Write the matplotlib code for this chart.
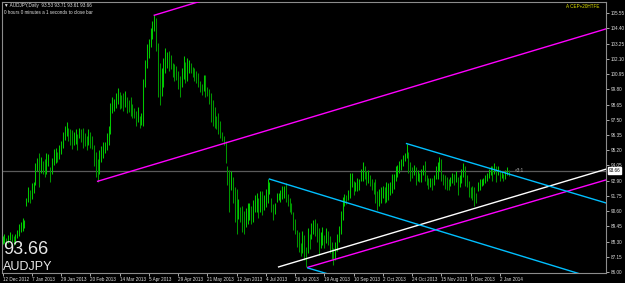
import numpy as np
import matplotlib
matplotlib.use("Agg")
import matplotlib.pyplot as plt

# daily AUDJPY bars (high / low)
highs = [88.7, 88.9, 88.6, 88.8, 89.0, 88.9, 88.7, 88.9, 89.2, 89.6,
         89.8, 90.1, 89.9, 91.6, 92.4, 92.2, 92.7, 92.8, 94.2, 94.6,
         95.0, 94.7, 94.4, 94.5, 95.0, 94.9, 93.9, 94.6, 95.3, 95.4,
         95.1, 95.6, 95.9, 96.6, 97.0, 97.3, 96.9, 96.8, 96.7, 96.6,
         96.8, 96.4, 96.9, 96.8, 96.9, 96.5, 96.3, 96.8, 96.6, 96.3,
         95.6, 95.1, 94.5, 95.2, 95.5, 95.8, 95.8, 96.5, 97.0, 98.8,
         99.2, 99.1, 99.5, 99.9, 99.6, 99.4, 99.5, 99.7, 99.2, 99.0,
         99.2, 98.7, 98.4, 98.2, 98.5, 97.8, 98.0, 100.6, 102.0, 103.2,
         103.6, 104.4, 105.0, 105.4, 105.2, 103.3, 101.8, 101.4, 102.2, 102.9,
         102.6, 102.7, 102.4, 101.8, 101.7, 101.6, 101.2, 100.8, 101.4, 102.3,
         101.9, 102.2, 102.0, 101.8, 101.5, 101.4, 101.2, 101.0, 100.4, 100.2,
         100.9, 100.9, 100.0, 99.8, 99.5, 99.0, 98.5, 97.8, 98.0, 97.4,
         96.6, 96.3, 95.9, 94.0, 93.7, 93.6, 93.2, 92.4, 92.3, 91.5,
         90.9, 91.0, 90.6, 90.8, 91.2, 91.2, 91.0, 91.4, 91.8, 92.0,
         91.6, 92.1, 92.1, 91.8, 92.3, 93.0, 92.8, 91.6, 91.1, 91.2,
         92.0, 92.0, 92.2, 92.5, 92.5, 92.7, 91.9, 91.6, 91.2, 90.5,
         90.0, 89.2, 89.0, 88.2, 89.1, 88.8, 87.9, 89.3, 88.9, 89.7,
         89.9, 90.0, 89.7, 89.3, 89.0, 89.4, 88.8, 89.3, 89.1, 88.7,
         88.3, 87.8, 88.3, 88.9, 89.5, 90.6, 91.7, 91.9, 91.8, 92.2,
         93.5, 93.5, 92.9, 92.8, 93.1, 93.0, 93.8, 94.3, 94.0, 93.6,
         93.7, 93.3, 93.0, 92.8, 93.0, 92.1, 92.3, 92.4, 92.5, 92.4,
         92.8, 92.7, 92.8, 93.4, 93.4, 94.0, 94.1, 94.4, 94.5, 94.8,
         95.0, 95.7, 95.1, 94.3, 93.9, 94.1, 93.9, 93.7, 93.5, 93.8,
         94.1, 94.4, 93.3, 93.1, 93.1, 93.1, 93.3, 94.0, 94.3, 94.7,
         94.5, 93.4, 93.3, 93.2, 93.0, 93.2, 93.5, 93.4, 93.6, 93.2,
         93.3, 93.8, 94.2, 94.0, 93.3, 92.9, 92.4, 92.5, 92.4, 92.0,
         92.8, 93.0, 93.0, 93.1, 93.3, 93.5, 93.8, 94.0, 94.0, 94.2,
         94.0, 94.0, 93.7, 93.6, 93.4, 93.7, 93.9, 93.71]
lows = [88.1, 88.2, 88.0, 88.2, 88.4, 88.3, 88.0, 88.1, 88.6, 88.7,
        89.0, 89.1, 89.3, 91.0, 91.3, 91.2, 91.5, 92.0, 92.6, 93.6,
        92.4, 93.5, 93.4, 93.2, 93.4, 94.0, 92.8, 93.4, 94.1, 94.2,
        94.3, 94.5, 94.9, 95.4, 96.0, 96.3, 95.9, 95.6, 95.3, 95.6,
        95.7, 95.2, 96.1, 95.8, 95.4, 95.5, 95.2, 95.6, 95.4, 95.3,
        94.0, 93.2, 92.8, 93.4, 94.3, 94.6, 95.0, 95.2, 95.6, 96.4,
        98.0, 98.2, 98.4, 98.7, 98.3, 98.4, 98.2, 98.5, 98.0, 98.1,
        97.8, 97.6, 97.6, 97.0, 97.3, 96.9, 97.1, 97.0, 100.0, 101.4,
        102.2, 103.0, 103.6, 104.2, 102.7, 99.2, 98.6, 99.3, 100.0, 101.0,
        101.4, 101.2, 101.3, 100.7, 100.4, 100.5, 99.8, 99.2, 100.0, 100.6,
        100.3, 100.4, 101.0, 101.0, 100.7, 100.4, 100.3, 100.0, 99.6, 99.4,
        99.7, 99.2, 99.3, 98.7, 97.3, 97.0, 96.9, 96.8, 96.4, 96.1,
        95.9, 95.6, 94.2, 92.6, 90.5, 92.2, 91.2, 89.8, 88.9, 90.0,
        89.8, 89.0, 88.9, 89.4, 89.6, 89.9, 89.6, 89.8, 90.5, 90.5,
        90.1, 90.5, 90.3, 90.7, 90.9, 91.2, 91.9, 90.5, 89.9, 90.4,
        91.3, 91.4, 91.3, 91.5, 91.6, 91.3, 91.0, 90.5, 90.4, 89.2,
        88.9, 87.9, 87.5, 87.2, 87.4, 86.9, 86.4, 87.4, 87.7, 88.5,
        88.9, 88.7, 88.3, 87.3, 87.8, 88.0, 87.8, 88.2, 88.0, 87.4,
        87.0, 86.5, 86.9, 87.6, 88.3, 88.9, 89.9, 91.0, 91.1, 91.4,
        91.6, 92.4, 91.8, 92.1, 92.1, 92.2, 92.9, 92.9, 93.0, 92.6,
        92.7, 92.5, 92.2, 91.9, 91.2, 90.7, 91.0, 91.2, 91.6, 91.2,
        91.3, 91.4, 91.8, 92.0, 92.3, 92.9, 93.2, 93.5, 93.7, 94.0,
        94.4, 94.6, 93.5, 92.9, 93.1, 93.3, 92.6, 92.9, 92.8, 92.8,
        93.3, 92.9, 92.6, 92.3, 92.4, 92.2, 92.6, 93.0, 93.0, 93.6,
        92.9, 92.6, 92.3, 92.2, 92.2, 92.5, 92.7, 92.6, 92.8, 91.8,
        92.4, 92.7, 93.2, 92.5, 92.4, 91.7, 91.6, 91.4, 91.0, 91.2,
        92.1, 92.2, 92.5, 92.6, 92.7, 92.9, 93.1, 93.3, 92.9, 93.4,
        92.8, 93.3, 92.9, 93.1, 92.9, 93.0, 93.3, 93.23]

last_price = 93.66

date_labels = ["12 Dec 2012", "7 Jan 2013", "29 Jan 2013", "20 Feb 2013",
               "14 Mar 2013", "5 Apr 2013", "29 Apr 2013", "21 May 2013",
               "12 Jun 2013", "4 Jul 2013", "26 Jul 2013", "19 Aug 2013",
               "10 Sep 2013", "2 Oct 2013", "24 Oct 2013", "15 Nov 2013",
               "9 Dec 2013", "2 Jan 2014"]
bars_per_label = 16

price_ticks = [86.00, 87.15, 88.30, 89.45, 90.60, 91.75, 92.90, 94.05, 95.20,
               96.35, 97.50, 98.65, 99.80, 100.95, 102.10, 103.25, 104.40, 105.55]

# trendlines: (bar1, price1, bar2, price2, colour), drawn as rays to the right
trendlines = [
    (52, 92.85, 328, 104.28, "#ff00ff"),
    (83, 105.40, 120, 106.95, "#ff00ff"),
    (167, 86.35, 328, 92.87, "#ff00ff"),
    (151, 86.38, 328, 93.68, "#ffffff"),
    (221, 95.70, 328, 91.30, "#00bfff"),
    (146, 93.02, 314, 85.93, "#00bfff"),
    (167, 86.30, 200, 84.95, "#00bfff"),
]

small = ["Liberation Sans", "DejaVu Sans"]

W, H = 625, 283
fig = plt.figure(figsize=(W / 100, H / 100), dpi=100, facecolor="black")
ax = fig.add_axes([2 / W, (H - 273) / H, 604 / W, 271 / H], facecolor="black")

n = len(highs)
x = np.arange(n)
hi = np.array(highs)
lo = np.array(lows)
mid = (hi + lo) / 2
down = np.r_[False, mid[1:] < mid[:-1]]
cols = np.where(down, "#009600", "#00c800")
ax.vlines(x, lo, hi, colors=cols, linewidth=0.75)

xmax = 330.1
ax.axhline(last_price, color="#5a5a5a", linewidth=0.9, zorder=1)

for b1, p1, b2, p2, c in trendlines:
    slope = (p2 - p1) / (b2 - b1)
    ax.plot([b1, xmax], [p1, p1 + slope * (xmax - b1)], color=c, linewidth=1.0, zorder=3)

ax.set_xlim(-0.3, xmax)
ax.set_ylim(85.92, 106.40)

for s in ["left", "top", "right", "bottom"]:
    ax.spines[s].set_color("#8c8c8c")
    ax.spines[s].set_linewidth(0.8)

ax.yaxis.tick_right()
ax.set_yticks(price_ticks)
ax.set_yticklabels([f"{v:.2f}" for v in price_ticks], family=small)
ax.tick_params(axis="y", colors="#c8c8c8", labelsize=3.3, length=2, width=0.6,
               pad=1.2, labelcolor="#e0e0e0")

ax.set_xticks(np.arange(len(date_labels)) * bars_per_label)
ax.set_xticklabels(date_labels, ha="left", family=small)
ax.tick_params(axis="x", colors="#c8c8c8", labelsize=3.3, length=2, width=0.6,
               pad=1.2, labelcolor="#e0e0e0")

# texts on the chart
fig.text(4 / W, 1 - 6 / H, "\u25bc AUDJPY,Daily  93.53 93.71 93.61 93.66", color="#e0e0e0",
         fontsize=3.3, va="center", family=small)
fig.text(4 / W, 1 - 12 / H, "0 hours 0 minutes a 1 seconds to close bar", color="#e0e0e0",
         fontsize=3.3, va="center", family=small)
fig.text(600 / W, 1 - 7 / H, "A CEP+20HTFE", color="#e6e600", fontsize=3.3,
         va="center", ha="right", family=small)
fig.text(3 / W, 1 - 250 / H, "93.66", color="#e8e8e8", fontsize=13, va="center", family=small)
fig.text(3 / W, 1 - 267 / H, "AUDJPY", color="#e8e8e8", fontsize=9, va="center", family=small)
ax.text(280, last_price, "<3:1", color="#b0b0b0", fontsize=3.3, va="center", family=small)

# current price tag on the axis
ax.text(1.004, (last_price - 85.92) / (106.40 - 85.92), f"{last_price:.2f}",
        transform=ax.transAxes, color="black", fontsize=3.3, va="center", ha="left",
        family=small,
        bbox=dict(boxstyle="square,pad=0.15", facecolor="white", edgecolor="white"))

fig.savefig("out.png", dpi=100, facecolor="black")
